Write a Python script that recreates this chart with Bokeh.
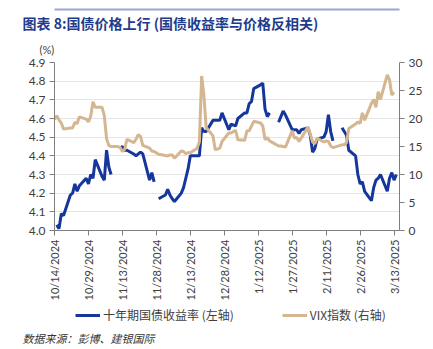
import math
import numpy as np
import pandas as pd
from bokeh.plotting import figure
from bokeh.layouts import column
from bokeh.models import (Range1d, LinearAxis, FixedTicker, Legend, LegendItem, ColumnDataSource, Title)
from bokeh.embed import file_html
from bokeh.resources import INLINE

# ---------------- data ----------------
start_date = "2024-10-14"
end_date = "2025-03-14"
closed_days = ["2024-12-25", "2025-01-01"]

yield_10y = [
    None, 4.03, 4.01, 4.09, 4.08,
    4.19, 4.20, 4.25, 4.21, 4.24,
    4.28, 4.25, 4.30, 4.28, 4.38,
    4.29, 4.27, 4.43, 4.34, 4.30,
    None, 4.44, 4.45, 4.43, 4.43,
    4.41, 4.40, 4.41, 4.42, 4.41,
    4.27, 4.31, 4.26, None, 4.17,
    4.19, 4.22, 4.19, 4.17, 4.155,
    4.20, 4.23, 4.28, 4.33, 4.40,
    4.40, 4.40, 4.55, 4.53, 4.53,
    4.59, 4.59, 4.59, 4.63,
    4.54, 4.57, 4.56, 4.60,
    4.63, 4.63, 4.68, 4.69, 4.76,
    4.78, 4.79, 4.65, 4.61, 4.63,
    None, 4.58, 4.61, 4.64, 4.62,
    4.54, 4.54, 4.54, 4.52, 4.54,
    4.55, 4.51, 4.42, 4.44, 4.49,
    4.50, 4.53, 4.62, 4.53, 4.48,
    None, 4.55, 4.53, 4.51, 4.43,
    4.40, 4.30, 4.25, 4.26, 4.21,
    4.16, 4.23, 4.27, 4.28, 4.30,
    4.21, 4.28, 4.31, 4.27, 4.30,
]

vix = [
    19.8, 20.5, 19.7, 19.2, 18.1,
    18.3, 18.3, 19.3, 19.1, 20.3,
    19.9, 19.4, 20.4, 23.0, 22.0,
    22.0, 20.5, 16.4, 15.2, 15.0,
    15.0, 14.8, 14.1, 14.5, 16.3,
    15.7, 16.3, 17.1, 16.8, 15.2,
    14.7, 14.2, 14.1, None, 13.6,
    13.4, 13.3, 13.5, 13.5, 12.9,
    14.2, 14.1, 13.7, 13.9, 13.9,
    14.7, 15.8, 27.6, 24.1, 18.4,
    16.9, 14.4, 14.7, 15.9,
    17.4, 17.4, 17.9, 16.2,
    16.1, 17.8, 17.8, None, 19.5,
    19.2, 18.7, 16.2, 16.6, 16.0,
    None, 15.1, 15.1, 15.0, 14.9,
    17.8, 16.5, 16.6, 15.9, 16.5,
    18.5, 17.2, 15.8, 15.5, 16.5,
    15.8, 16.0, 15.9, 15.1, 14.8,
    None, 15.3, 15.3, 15.7, 18.2,
    19.0, 19.4, 19.1, 21.0, 19.7,
    22.7, 23.4, 22.0, 24.8, 23.4,
    27.8, 26.9, 24.2, 24.7, None,
]

tick_labels = ["10/14/2024", "10/29/2024", "11/13/2024", "11/28/2024", "12/13/2024",
               "12/28/2024", "1/12/2025", "1/27/2025", "2/11/2025", "2/26/2025", "3/13/2025"]

title_text = "图表 8:国债价格上行 (国债收益率与价格反相关)"
unit_text = "(%)"
series_names = ["十年期国债收益率 (左轴)", "VIX指数 (右轴)"]
source_text = "数据来源：彭博、建银国际"

# ---------------- build ----------------
t0 = pd.Timestamp(start_date)
dates = [d for d in pd.bdate_range(start_date, end_date) if d.strftime("%Y-%m-%d") not in closed_days]
days = np.array([(d - t0).days for d in dates], dtype=float)

y_blue = np.array([np.nan if v is None else v for v in yield_10y], dtype=float)
src_blue = ColumnDataSource(dict(x=days, y=y_blue))
mask = np.array([v is not None for v in vix])
src_tan = ColumnDataSource(dict(x=days[mask], y=np.array([v for v in vix if v is not None], dtype=float)))

tick_pos = [(pd.to_datetime(t, format="%m/%d/%Y") - t0).days for t in tick_labels]

BLUE = "#15379B"
TAN = "#D4B690"
TXT = "#404040"
RULE = "#9AA5D5"
FONT = "Lato"
CJK = "Noto Sans CJK SC"
W = 433
MAIN_H = 303
FOOT_H = 349 - MAIN_H

p = figure(width=W, height=MAIN_H, output_backend="svg", toolbar_location=None,
           x_range=Range1d(0, 152.4), y_range=Range1d(4.0, 4.9),
           min_border_left=54, min_border_right=34, min_border_top=62, min_border_bottom=71)
p.outline_line_color = None
p.background_fill_color = "white"
p.border_fill_color = "white"
p.extra_y_ranges = {"vix": Range1d(0, 30)}

p.xgrid.visible = False
p.ygrid.grid_line_color = "#E4E4E4"
p.ygrid.grid_line_width = 1
p.ygrid.ticker = FixedTicker(ticks=[round(4.0 + 0.1 * i, 1) for i in range(10)])

ya = p.yaxis[0]
ya.ticker = FixedTicker(ticks=[round(4.0 + 0.1 * i, 1) for i in range(10)])
ya.major_label_overrides = {round(4.0 + 0.1 * i, 1): f"{4.0 + 0.1 * i:.1f}" for i in range(10)}
ra = LinearAxis(y_range_name="vix", ticker=FixedTicker(ticks=[0, 5, 10, 15, 20, 25, 30]))
p.add_layout(ra, "right")
xa = p.xaxis[0]
xa.ticker = FixedTicker(ticks=tick_pos)
xa.major_label_overrides = {tp: lab for tp, lab in zip(tick_pos, tick_labels)}
xa.major_label_orientation = math.pi / 2

for ax, fs in ((ya, "12px"), (ra, "12px"), (xa, "11px")):
    ax.minor_tick_line_color = None
    ax.major_tick_in = 0
    ax.major_tick_out = 5
    ax.axis_line_color = "#7F7F7F"
    ax.major_tick_line_color = "#7F7F7F"
    ax.major_label_text_font = FONT
    ax.major_label_text_font_size = fs
    ax.major_label_text_color = TXT
    ax.major_label_standoff = 4

r_blue = p.line("x", "y", source=src_blue, line_color=BLUE, line_width=3)
r_tan = p.line("x", "y", source=src_tan, line_color=TAN, line_width=3, y_range_name="vix")

# header: unit, title, and a decorative rule (an empty top axis)
p.add_layout(Title(text=unit_text, align="left", offset=-15, standoff=14,
                   text_font=FONT, text_font_size="11px", text_font_style="normal",
                   text_color=TXT), "above")
p.add_layout(Title(text=title_text, align="left", offset=-32, standoff=2,
                   text_font=CJK, text_font_size="14px", text_font_style="bold",
                   text_color="#1F3C8C"), "above")
rule = LinearAxis(ticker=FixedTicker(ticks=[]), axis_line_color=RULE, axis_line_width=2,
                  major_tick_line_color=None, minor_tick_line_color=None,
                  major_label_text_font_size="0px")
p.add_layout(rule, "above")

# footer: legend and source
foot = figure(width=W, height=FOOT_H, output_backend="svg", toolbar_location=None,
              x_range=Range1d(0, 1), y_range=Range1d(0, 1),
              min_border_left=54, min_border_right=34, min_border_top=0, min_border_bottom=24)
foot.axis.visible = False
foot.grid.visible = False
foot.outline_line_color = None
foot.background_fill_color = "white"
foot.border_fill_color = "white"
# legend keys: same series, falling outside this strip's ranges so only their keys show
k_blue = foot.line("x", "y", source=src_blue, line_color=BLUE, line_width=3)
k_tan = foot.line("x", "y", source=src_tan, line_color=TAN, line_width=3)
legend = Legend(items=[LegendItem(label=series_names[0], renderers=[k_blue]),
                       LegendItem(label=series_names[1], renderers=[k_tan])],
                orientation="horizontal", location=(21, 1),
                glyph_width=25, glyph_height=16, label_standoff=3, spacing=48,
                padding=0, margin=0, border_line_color=None, background_fill_alpha=0,
                label_text_font=CJK, label_text_font_size="12px", label_text_color=TXT)
foot.add_layout(legend, "center")
foot.add_layout(Title(text=source_text, align="left", offset=-32, standoff=7,
                      text_font=CJK, text_font_size="11px", text_font_style="italic",
                      text_color="#333333"), "below")

layout = column(p, foot, spacing=0)
open("out.html", "w").write(file_html(layout, INLINE))
